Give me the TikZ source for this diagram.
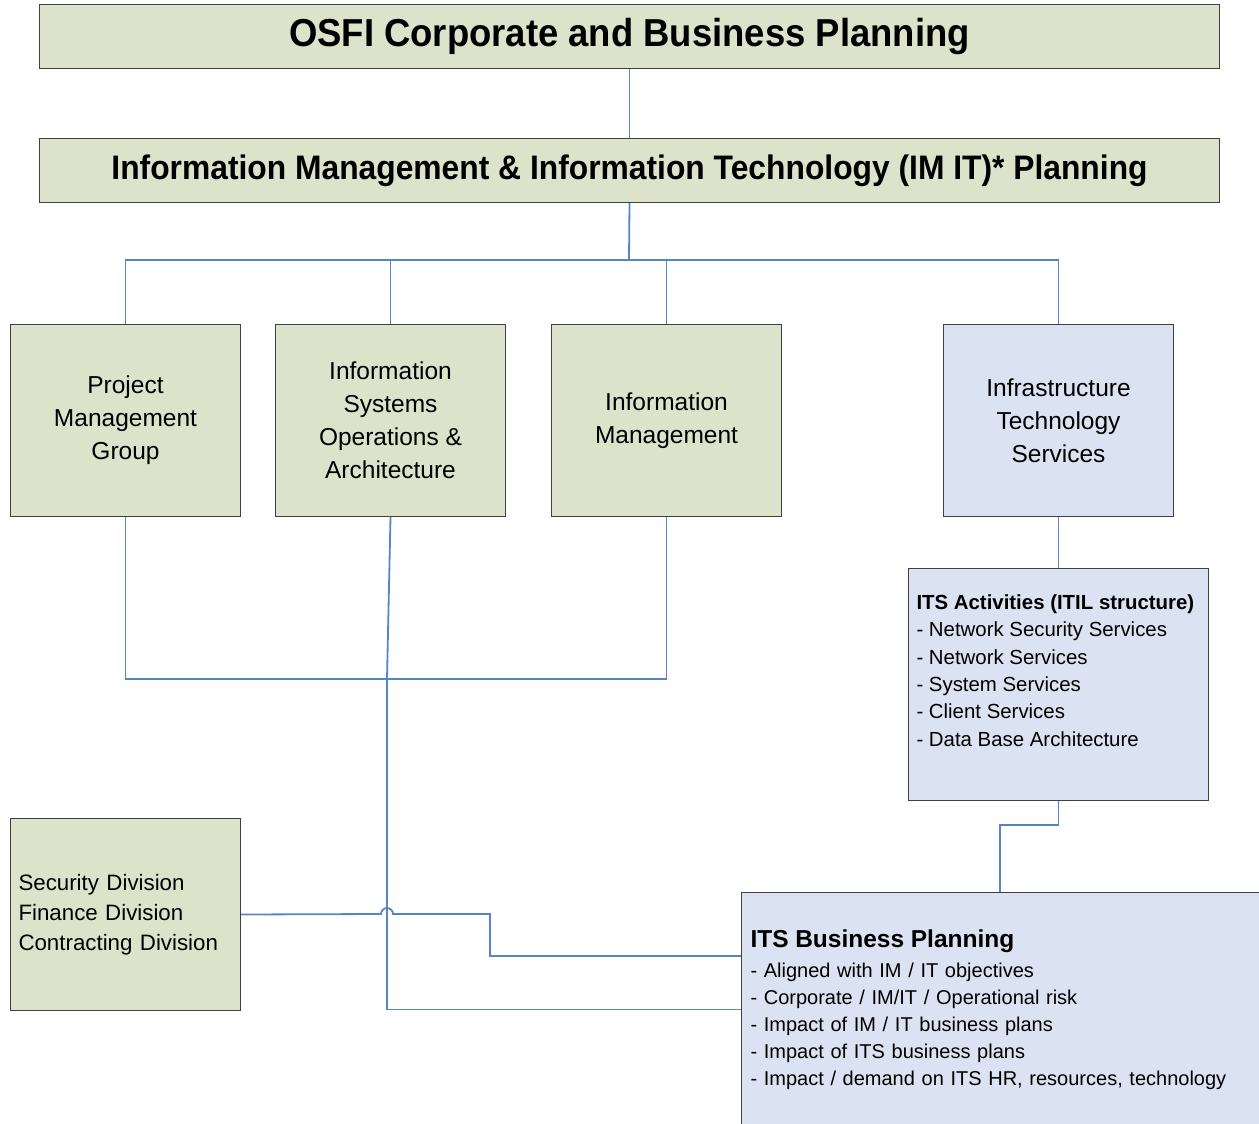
\documentclass[tikz,border=0pt]{standalone}
\usepackage{fontspec}
\setmainfont{Liberation Sans}
\newfontfamily\titlefont{Liberation Sans}[FakeStretch=0.935]
\usetikzlibrary{positioning}

\definecolor{greenfill}{HTML}{DDE2CB}
\definecolor{bluefill}{HTML}{DBE2F1}
\definecolor{linkblue}{HTML}{5585C7}

\tikzset{
  box/.style={draw=black!75, fill=greenfill, line width=1pt, inner sep=0pt,
    anchor=north west, align=center},
  bluebox/.style={box, fill=bluefill},
  unit/.style={box, minimum width=230pt, minimum height=192pt,
    font=\fontsize{24.5}{33}\selectfont},
  link/.style={draw=linkblue, line width=1.8pt},
}

\begin{document}
\begin{tikzpicture}[x=1pt,y=-1pt]
    \useasboundingbox (0,0) rectangle (1259,1124);
    \clip (0,0) rectangle (1259,1124);

    \node [box, minimum width=1180pt, minimum height=64pt,
    font=\titlefont\fontsize{39}{44}\selectfont\bfseries] (osfi) at (39,4)
    {OSFI Corporate and Business Planning};

    \node [box, minimum width=1180pt, minimum height=64pt,
    font=\titlefont\fontsize{34}{40}\selectfont\bfseries] (imit) at (39,138)
    {Information Management \& Information Technology (IM IT)* Planning};

    \node [unit] (pmg) at (10,324) {Project\\Management\\Group};
    \node [unit] (isoa) at (275,324)
    {Information\\Systems\\Operations \&\\Architecture};
    \node [unit] (im) at (551,324) {Information\\Management};
    \node [unit, bluebox] (its) at (943,324)
    {Infrastructure\\Technology\\Services};

    \node [bluebox, inner xsep=8pt, inner ysep=26pt] (act) at (908,568)
    {\parbox[c][180pt][t]{284pt}{\raggedright\fontsize{20.4}{27.4}\selectfont
      \textbf{ITS Activities (ITIL structure)}\\
      - Network Security Services\\
      - Network Services\\
      - System Services\\
      - Client Services\\
      - Data Base Architecture}};

    \node [box, minimum width=230pt, minimum height=192pt, text width=214pt,
    align=left, font=\fontsize{22.3}{30}\selectfont] (sec) at (10,818)
    {Security Division\\Finance Division\\Contracting Division};

    \node [bluebox, minimum height=234pt, text width=560pt, inner xsep=9pt,
    align=left, font=\fontsize{20}{27}\selectfont] (bp) at (741,892)
    {{\fontsize{24.5}{30}\selectfont\bfseries ITS Business Planning}\\[3pt]
      - Aligned with IM / IT objectives\\
      - Corporate / IM/IT / Operational risk\\
      - Impact of IM / IT business plans\\
      - Impact of ITS business plans\\
      - Impact / demand on ITS HR, resources, technology};

    % upper tree
    \coordinate (bus) at (629,260);
    \draw [link] (osfi.south) -- (imit.north);
    \draw [link] (imit.south) -- (bus);
    \foreach \b in {pmg,isoa,im,its}
      \draw [link] (bus) -| (\b.north);

    % lower connections
    \coordinate (lowbus) at (387,679);
    \draw [link] (pmg.south) |- (lowbus);
    \draw [link] (im.south) |- (lowbus);
    \draw [link] (isoa.south) -- (lowbus);
    \draw [link] (lowbus) |- (bp.west);

    \coordinate (jump) at (381,914);
    \coordinate (secturn) at (490,914);
    \coordinate (secin) at (741,956);
    \draw [link] (sec.east) -- (jump) arc [start angle=180, end angle=0,
    radius=6pt] -- (secturn) |- (secin);

    \draw [link] (its.south) -- (act.north);
    \coordinate (bpin) at (1000,892);
    \draw [link] (act.south) -- ++(0,24) -| (bpin);
\end{tikzpicture}
\end{document}
